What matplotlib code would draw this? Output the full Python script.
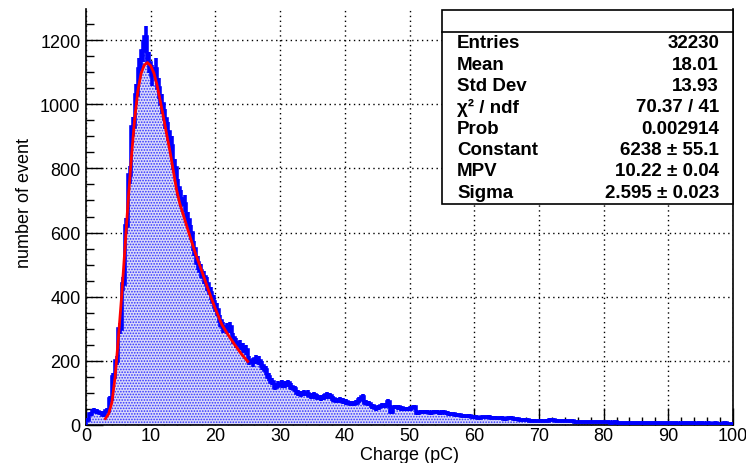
import numpy as np
import matplotlib
matplotlib.use("Agg")
import matplotlib.pyplot as plt
from matplotlib.patches import Rectangle
from matplotlib.lines import Line2D
from matplotlib.ticker import MultipleLocator

plt.rcParams['font.family'] = ['Liberation Sans', 'DejaVu Sans']
plt.rcParams['hatch.linewidth'] = 0.8

# histogram: 200 bins of 0.5 pC from 0 to 100
bin_lo = 0.0
bin_w = 0.5
counts = [
    15, 35, 45, 42, 38, 30, 45, 80, 150, 200,
    300, 440, 620, 780, 930, 1030, 1110, 1165, 1210, 1130,
    1090, 1110, 1050, 1000, 955, 915, 870, 800, 740, 705,
    690, 640, 600, 550, 505, 480, 460, 440, 410, 385,
    360, 325, 305, 300, 305, 270, 255, 250, 240, 235,
    200, 195, 205, 200, 185, 170, 150, 135, 120, 125,
    128, 126, 130, 120, 112, 100, 97, 100, 98, 90,
    92, 88, 84, 88, 92, 90, 80, 76, 78, 75,
    72, 68, 66, 70, 78, 86, 70, 66, 58, 52,
    55, 60, 60, 72, 42, 56, 55, 52, 50, 50,
    52, 56, 36, 40, 40, 40, 38, 40, 40, 38,
    40, 38, 35, 33, 32, 30, 29, 27, 28, 24,
    25, 23, 24, 24, 26, 23, 22, 21, 22, 20,
    21, 23, 18, 19, 15, 17, 16, 14, 14, 13,
    14, 13, 14, 17, 16, 14, 13, 12, 13, 11,
    11, 10, 10, 9, 9, 10, 9, 8, 8, 9,
    8, 8, 7, 8, 7, 6, 7, 7, 6, 6,
    7, 5, 6, 6, 5, 7, 6, 5, 6, 5,
    6, 5, 6, 4, 5, 5, 6, 5, 4, 5,
    5, 4, 5, 4, 5, 4, 4, 5, 4, 3,
]

# Landau fit curve
fit_x = [3, 3.5, 4, 4.5, 5, 5.5, 6, 6.5, 7, 7.5, 8, 8.5, 9, 9.5, 10, 10.5,
         11, 11.5, 12, 12.5, 13, 13.5, 14, 14.5, 15, 16, 17, 18, 19, 20,
         21, 22, 23, 24, 25]
fit_y = [20, 35, 70, 150, 270, 400, 545, 695, 830, 950, 1040, 1095, 1122, 1130, 1120, 1097,
         1058, 1008, 957, 903, 851, 792, 733, 690, 658, 592, 530, 474, 416, 362,
         313, 280, 250, 222, 198]

stats_names = ["Entries", "Mean", "Std Dev", "\u03c7\u00b2 / ndf", "Prob",
               "Constant", "MPV", "Sigma"]
stats_vals = ["32230", "18.01", "13.93", "70.37 / 41", "0.002914",
              "6238 \u00b1 55.1", "10.22 \u00b1 0.04", "2.595 \u00b1 0.023"]

counts = np.array(counts, dtype=float)
edges = bin_lo + bin_w * np.arange(len(counts) + 1)
centers = 0.5 * (edges[:-1] + edges[1:])
errs = np.sqrt(counts)

W, H = 746, 464
fig = plt.figure(figsize=(W / 100, H / 100), dpi=100)
ax = fig.add_axes([86 / W, 1 - 426 / H, (733 - 86) / W, (426 - 10) / H])

ax.stairs(counts, edges, fill=True, facecolor='#dadaf9', edgecolor='#3030ff',
          hatch='......', linewidth=0, zorder=2)
ax.stairs(counts, edges, color='#0000ff', lw=2.6, zorder=3)
ax.errorbar(centers, counts, xerr=bin_w / 2, yerr=errs, fmt='none',
            ecolor='#0000ff', elinewidth=2.6, capsize=0, zorder=3)
ax.plot(fit_x, fit_y, color='#ff0000', lw=2, zorder=4)

ax.set_xlim(0, 100)
ax.set_ylim(0, 1297)
ax.xaxis.set_major_locator(MultipleLocator(10))
ax.xaxis.set_minor_locator(MultipleLocator(2))
ax.yaxis.set_major_locator(MultipleLocator(200))
ax.yaxis.set_minor_locator(MultipleLocator(50))
ax.tick_params(which='both', direction='in', top=False, right=False,
               labelsize=13, color='black')
ax.tick_params(which='major', length=12, width=1)
ax.tick_params(which='minor', length=6, width=1)
ax.tick_params(axis='x', which='major', pad=1.5)
ax.tick_params(axis='y', which='major', pad=4)
ax.grid(True, which='major', linestyle=(0, (1, 2.5)), color='black', lw=1.0, zorder=1)
ax.set_axisbelow(True)
ax.spines['top'].set_visible(False)
for s in ['left', 'bottom', 'right']:
    ax.spines[s].set_linewidth(1.2)

fig.text(410 / W, 1 - 456 / H, "Charge (pC)", ha='center', va='center', fontsize=13)
fig.text(25 / W, 1 - 203 / H, "number of event", ha='center', va='center',
         rotation=90, fontsize=13)

# stats box
bx0, bx1 = 442 / W, 733 / W
by_top, by_bot = 1 - 11 / H, 1 - 205 / H
fig.patches.append(Rectangle((bx0, by_bot), bx1 - bx0, by_top - by_bot,
                             transform=fig.transFigure, facecolor='white',
                             edgecolor='black', lw=1.2, zorder=10))
fig.lines.append(Line2D([bx0, bx1], [1 - 33 / H, 1 - 33 / H],
                        transform=fig.transFigure, color='black', lw=1.2, zorder=11))
for i in range(len(stats_names)):
    yy = 1 - (44 + 21.3 * i) / H
    fig.text(457 / W, yy, stats_names[i], ha='left', va='center', fontsize=13.5,
             fontweight='bold', zorder=12)
    fig.text(719 / W, yy, stats_vals[i], ha='right', va='center', fontsize=13.5,
             fontweight='bold', zorder=12)

fig.savefig("out.png", dpi=100)
